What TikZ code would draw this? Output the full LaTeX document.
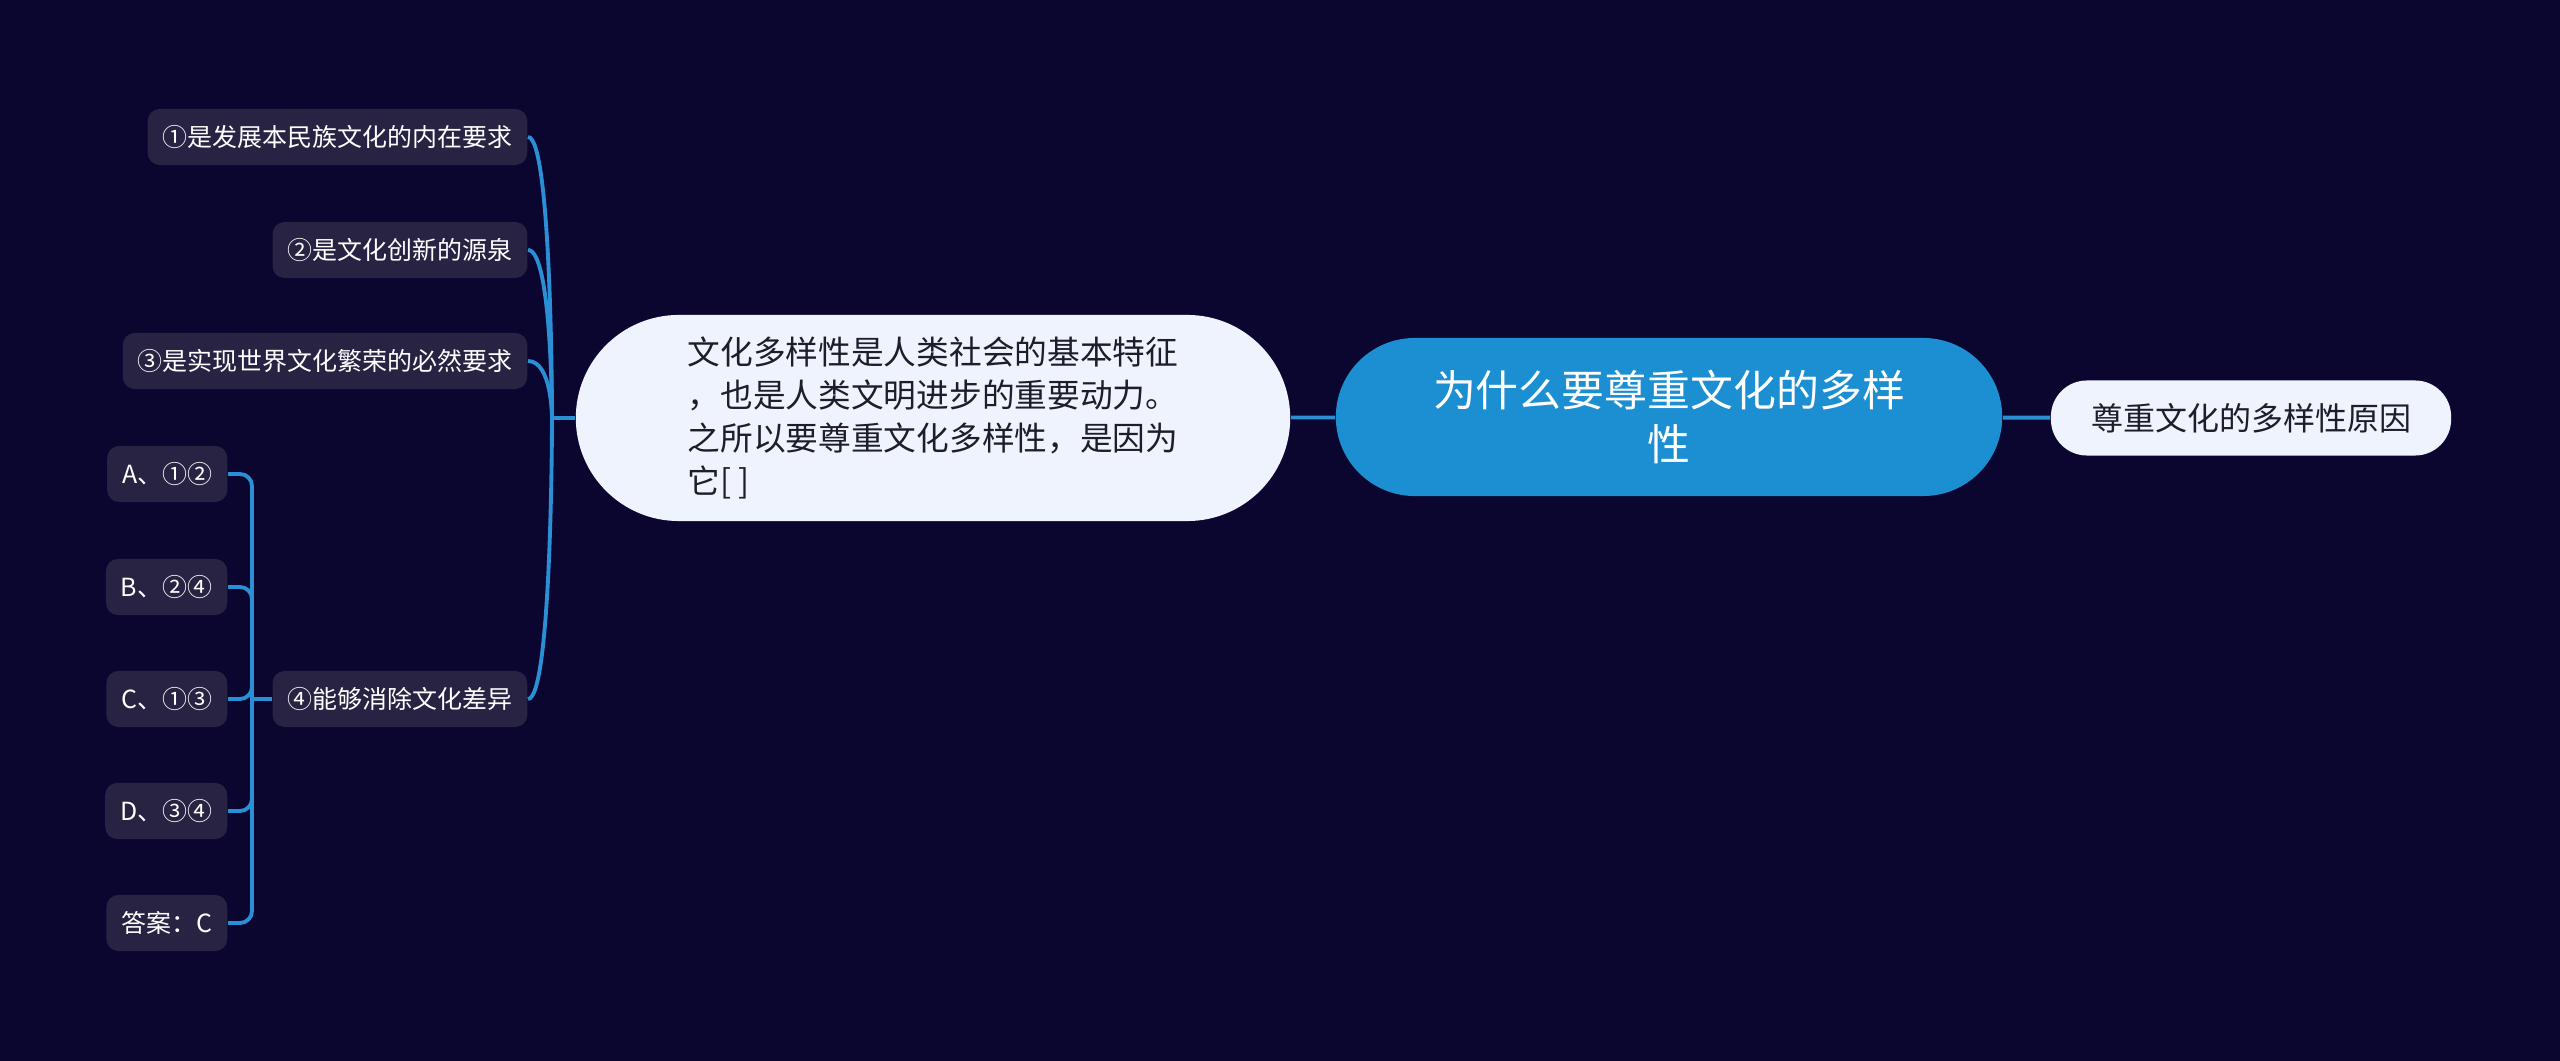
\documentclass[tikz,border=0pt]{standalone}
\usepackage{fontspec}
\setmainfont{Noto Sans CJK SC}
\usetikzlibrary{positioning,calc}

\definecolor{bgnavy}{HTML}{0B0630}
\definecolor{linkblue}{HTML}{2B8FD5}
\definecolor{rootblue}{HTML}{1B8FD1}
\definecolor{paleblue}{HTML}{EEF3FD}
\definecolor{leafgray}{HTML}{282243}
\definecolor{inkdark}{HTML}{1E1E28}

\begin{document}
\begin{tikzpicture}[x=0.01cm, y=-0.01cm,
  link/.style={draw=linkblue, line width=1.1pt},
  leaf/.style={fill=leafgray, text=white, rounded corners=0.12cm, inner xsep=0.15cm,
    minimum height=0.56cm, anchor=east, font=\fontsize{7.1}{8.5}\selectfont},
  rootbox/.style={fill=rootblue, text=white, rounded corners=0.79cm, minimum width=6.66cm,
    minimum height=1.58cm, align=center, font=\fontsize{12.2}{15.4}\selectfont},
  pillbox/.style={fill=paleblue, text=inkdark, align=left}]

% Background
\fill[bgnavy] (0,0) rectangle (2560,1061);

% Root and first level
\node[rootbox] (root) at (1669,417) {为什么要尊重文化的多样\\性};
\node[pillbox, rounded corners=0.36cm, minimum width=4cm, minimum height=0.75cm,
  font=\fontsize{9.1}{11}\selectfont] (reason) at (2251,418) {尊重文化的多样性原因};
\node[pillbox, rounded corners=1.03cm, minimum width=7.14cm, minimum height=2.06cm,
  font=\fontsize{9.3}{12.2}\selectfont] (question) at (933,418)
  {文化多样性是人类社会的基本特征\\，也是人类文明进步的重要动力。\\之所以要尊重文化多样性，是因为\\它[ ]};

\draw[link] (question) -- (root);
\draw[link] (root) -- (reason);

% Statements
\node[leaf] (s1) at (528,137) {①是发展本民族文化的内在要求};
\node[leaf] (s2) at (528,250) {②是文化创新的源泉};
\node[leaf] (s3) at (528,361) {③是实现世界文化繁荣的必然要求};
\node[leaf] (s4) at (528,699) {④能够消除文化差异};

\coordinate (j1) at (552,418);
\draw[link] (question.west) -- (j1);
\foreach \s in {s1,s2,s3,s4}
  \draw[link] (\s.east) .. controls (j1 |- \s.east) and (j1) .. (j1);

% Options
\node[leaf] (oa) at (228,474) {A、①②};
\node[leaf] (ob) at (228,587) {B、②④};
\node[leaf] (oc) at (228,699) {C、①③};
\node[leaf] (od) at (228,811) {D、③④};
\node[leaf] (ans) at (228,923) {答案：C};

\coordinate (j2) at (252,699);
\draw[link] (s4.west) -- (j2);
\foreach \o in {oa,ob,oc,od,ans}
  \draw[link, rounded corners=0.12cm] (\o.east) -| (j2);

\end{tikzpicture}
\end{document}
